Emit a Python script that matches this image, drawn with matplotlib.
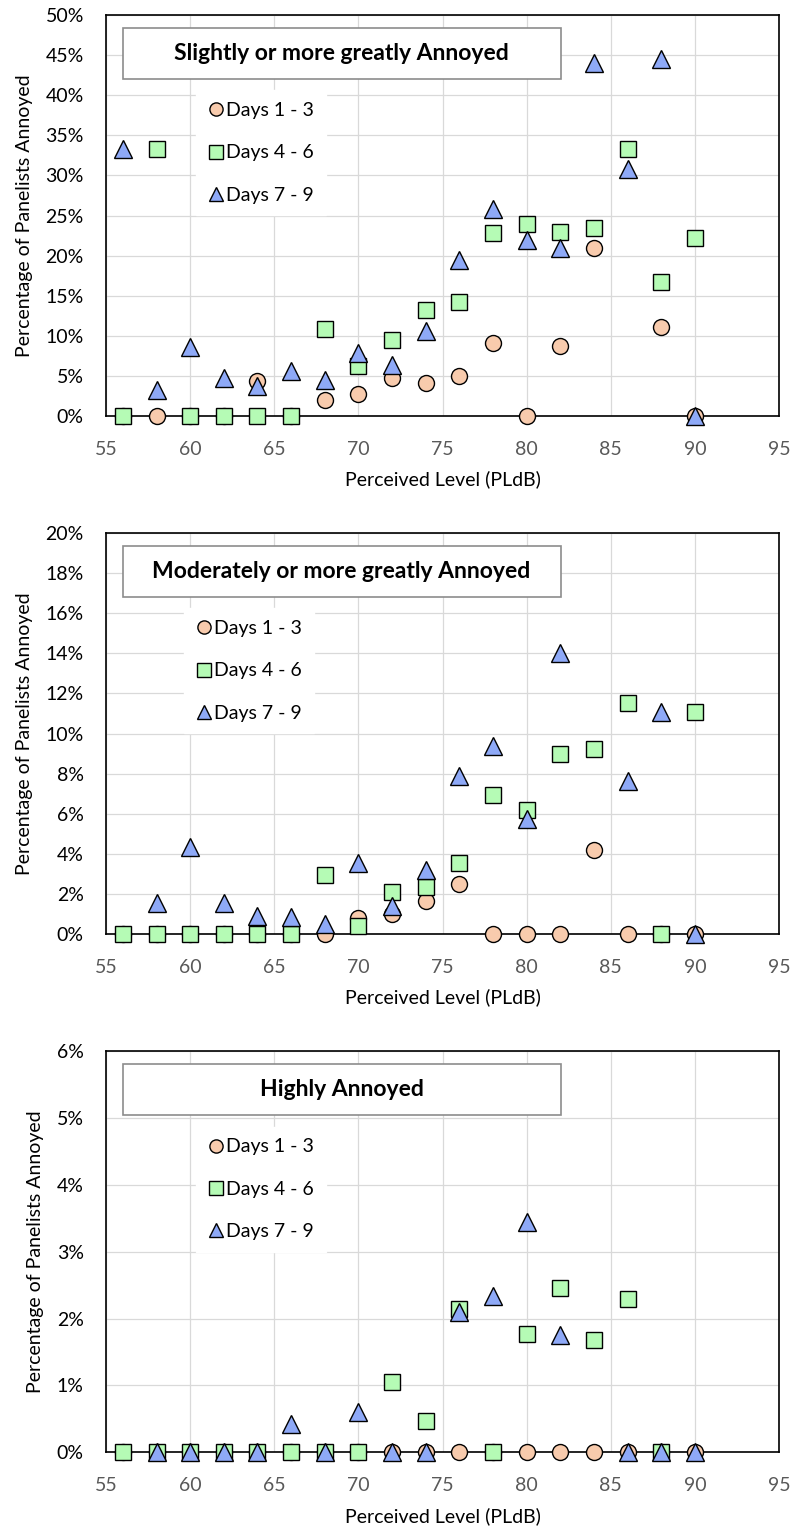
import numpy as np
import matplotlib
matplotlib.use("Agg")
import matplotlib.pyplot as plt
from matplotlib.ticker import PercentFormatter, MultipleLocator
from matplotlib.patches import Rectangle

plt.rcParams['font.family'] = ['Lato', 'DejaVu Sans']

nan = np.nan
levels = [56, 58, 60, 62, 64, 66, 68, 70, 72, 74, 76, 78, 80, 82, 84, 86, 88, 90]
labels = ["Days 1 - 3", "Days 4 - 6", "Days 7 - 9"]

# Slightly or more greatly annoyed (%)
slight_d13 = [0, 0, 0, 0, 4.4, 0, 2.0, 2.8, 4.8, 4.1, 5.0, 9.1, 0, 8.7, 20.9, nan, 11.1, 0]
slight_d46 = [0, 33.3, 0, 0, 0, 0, 10.8, 6.2, 9.5, 13.2, 14.2, 22.8, 23.9, 22.9, 23.5, 33.3, 16.7, 22.2]
slight_d79 = [33.3, 3.2, 8.6, 4.8, 3.7, 5.6, 4.5, 7.8, 6.3, 10.6, 19.5, 25.8, 21.9, 21.0, 44.0, 30.8, 44.5, 0]

# Moderately or more greatly annoyed (%)
mod_d13 = [0, 0, 0, 0, 0, 0, 0, 0.8, 1.0, 1.65, 2.5, 0, 0, 0, 4.2, 0, 0, 0]
mod_d46 = [0, 0, 0, 0, 0, 0, 2.95, 0.4, 2.1, 2.35, 3.55, 6.95, 6.2, 9.0, 9.25, 11.5, 0, 11.1]
mod_d79 = [nan, 1.55, 4.35, 1.55, 0.9, 0.85, 0.5, 3.55, 1.4, 3.2, 7.9, 9.4, 5.75, 14.0, nan, 7.65, 11.1, 0]

# Highly annoyed (%)
high_d13 = [0, 0, 0, 0, 0, 0, 0, 0, 0, 0, 0, 0, 0, 0, 0, 0, 0, 0]
high_d46 = [0, 0, 0, 0, 0, 0, 0, 0, 1.05, 0.47, 2.15, 0, 1.77, 2.46, 1.68, 2.3, 0, nan]
high_d79 = [nan, 0, 0, 0, 0, 0.42, 0, 0.6, 0, 0, 2.1, 2.34, 3.45, 1.75, nan, 0, 0, 0]

panels = [
    ("Slightly or more greatly Annoyed", [slight_d13, slight_d46, slight_d79], 50, 5, 0.134),
    ("Moderately or more greatly Annoyed", [mod_d13, mod_d46, mod_d79], 20, 2, 0.116),
    ("Highly Annoyed", [high_d13, high_d46, high_d79], 6, 1, 0.134),
]

markers = ['o', 's', '^']
sizes = [11.5, 11.5, 13]
colors = ['#F8CBAD', '#B5FBB5', '#8EA9F7']

fig = plt.figure(figsize=(7.93, 15.3), dpi=100)
bottoms = [0.7281, 0.3895, 0.0508]

for (title, series, ymax, ystep, legx), b in zip(panels, bottoms):
    ax = fig.add_axes([0.1337, b, 0.8487, 0.2621])
    for vals, m, s, c, lab in zip(series, markers, sizes, colors, labels):
        ax.plot(levels, vals, linestyle='none', marker=m, markersize=s,
                markerfacecolor=c, markeredgecolor='black', markeredgewidth=1.0,
                label=lab, clip_on=False, zorder=3)
    ax.set_xlim(55, 95)
    ax.set_ylim(0, ymax)
    ax.xaxis.set_major_locator(MultipleLocator(5))
    ax.yaxis.set_major_locator(MultipleLocator(ystep))
    ax.yaxis.set_major_formatter(PercentFormatter(xmax=100, decimals=0))
    ax.grid(True, color='#D9D9D9', linewidth=0.9)
    ax.set_axisbelow(True)
    for sp in ax.spines.values():
        sp.set_linewidth(1.2)
        sp.set_color('black')
    ax.tick_params(axis='both', length=0, labelsize=14)
    ax.tick_params(axis='x', pad=18, labelcolor='#595959')
    ax.tick_params(axis='y', pad=16, labelcolor='black')
    ax.set_xlabel("Perceived Level (PLdB)", fontsize=14, labelpad=9)
    ax.set_ylabel("Percentage of Panelists Annoyed", fontsize=14, labelpad=9)

    # title box
    ax.add_patch(Rectangle((0.025, 0.840), 0.651, 0.128, transform=ax.transAxes,
                           facecolor='white', edgecolor='#8C8C8C', linewidth=1.2, zorder=4))
    ax.text(0.35, 0.904, title, transform=ax.transAxes, ha='center', va='center',
            fontsize=16.5, fontweight='bold', zorder=5)

    leg = ax.legend(loc='upper left', bbox_to_anchor=(legx, 0.812), fontsize=14,
                    frameon=True, facecolor='white', edgecolor='white', framealpha=1,
                    fancybox=False, handlelength=0.8, handletextpad=0.15,
                    labelspacing=1.3, borderpad=0.6, borderaxespad=0)
    leg.set_zorder(4)
    for h in leg.legend_handles:
        h.set_markersize(9.5)

fig.savefig("out.png", dpi=100)
